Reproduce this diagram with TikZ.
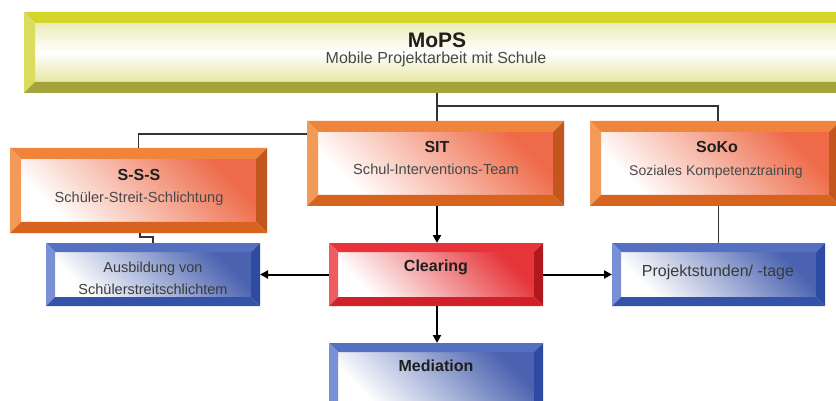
\documentclass[tikz,border=0pt]{standalone}
\usepackage{fontspec}
\setmainfont{Liberation Sans}
\usetikzlibrary{arrows.meta}

% colour families: top / left / right / bottom bevel and face tint
\definecolor{yetop}{HTML}{D6D52C}
\definecolor{yeleft}{HTML}{DCDC5E}
\definecolor{yeright}{HTML}{B4B43A}
\definecolor{yebot}{HTML}{A4A43A}
\definecolor{yein}{HTML}{E4E49C}

\definecolor{ortop}{HTML}{F0843A}
\definecolor{orleft}{HTML}{F49A58}
\definecolor{orright}{HTML}{C2561C}
\definecolor{orbot}{HTML}{D8631E}
\definecolor{orin}{HTML}{EE6A48}

\definecolor{rdtop}{HTML}{E8333A}
\definecolor{rdleft}{HTML}{EE5C60}
\definecolor{rdright}{HTML}{B01A1E}
\definecolor{rdbot}{HTML}{D0202A}
\definecolor{rdin}{HTML}{E6363A}

\definecolor{bltop}{HTML}{5570C0}
\definecolor{blleft}{HTML}{7A90D6}
\definecolor{blright}{HTML}{2E4AA2}
\definecolor{blbot}{HTML}{3352A8}
\definecolor{blin}{HTML}{4A62B0}

\definecolor{linkgray}{HTML}{333333}
\definecolor{titlecol}{HTML}{1E1E1E}
\definecolor{subcol}{HTML}{484848}

\tikzset{
  boxshape/.style={rectangle, inner sep=0pt, outer sep=0pt, anchor=north west},
  yeshade/.style={top color=yein!70!white, bottom color=yein!90!white, middle color=white},
  orshade/.style={top color=orin, bottom color=white, shading angle=-45},
  rdshade/.style={top color=rdin, bottom color=white, shading angle=-45},
  blshade/.style={top color=blin, bottom color=white, shading angle=-45},
  link/.style={draw=linkgray, line width=1.3pt},
  flow/.style={draw=black, line width=2pt, -{Triangle[length=8pt,width=8pt]}},
  bigttl/.style={font=\bfseries\fontsize{21}{25}\selectfont, text=titlecol, inner sep=0pt, anchor=base},
  ttl/.style={font=\bfseries\fontsize{16}{19}\selectfont, text=titlecol, inner sep=0pt, anchor=base},
  sub/.style={font=\fontsize{14.6}{17}\selectfont, text=subcol, inner sep=0pt, anchor=base},
  lbl/.style={font=\fontsize{14.5}{17}\selectfont, text=subcol!80!black, inner sep=0pt, anchor=base},
}

% #1 name, #2 x, #3 y (top-left), #4 width, #5 height, #6 bevel, #7 colour family
\newcommand\bevelbox[7]{%
  \node[boxshape, minimum width=#4pt, minimum height=#5pt] (#1) at (#2,#3) {};
  \shade[#7shade] ([xshift=#6pt,yshift=#6pt]#1.south west) rectangle ([xshift=-#6pt,yshift=-#6pt]#1.north east);
  \fill[#7top] (#1.north west) -- (#1.north east) -- ([xshift=-#6pt,yshift=-#6pt]#1.north east) -- ([xshift=#6pt,yshift=-#6pt]#1.north west) -- cycle;
  \fill[#7left] (#1.north west) -- ([xshift=#6pt,yshift=-#6pt]#1.north west) -- ([xshift=#6pt,yshift=#6pt]#1.south west) -- (#1.south west) -- cycle;
  \fill[#7right] (#1.north east) -- (#1.south east) -- ([xshift=-#6pt,yshift=#6pt]#1.south east) -- ([xshift=-#6pt,yshift=-#6pt]#1.north east) -- cycle;
  \fill[#7bot] (#1.south west) -- (#1.south east) -- ([xshift=-#6pt,yshift=#6pt]#1.south east) -- ([xshift=#6pt,yshift=#6pt]#1.south west) -- cycle;
}

\begin{document}
\begin{tikzpicture}[x=1pt,y=-1pt]
\useasboundingbox (0,0) rectangle (836,401);
\clip (0,0) rectangle (836,401);
\fill[white] (0,0) rectangle (836,401);

% boxes
\bevelbox{mops}{24}{12}{830}{81}{11}{ye}
\bevelbox{sit}{307}{121}{257}{85}{11}{or}
\bevelbox{soko}{590}{121}{250}{85}{11}{or}
\bevelbox{sss}{10}{148}{257}{85}{11}{or}
\bevelbox{ausb}{46}{243}{214}{63}{9}{bl}
\bevelbox{clear}{329}{243}{214}{63}{9}{rd}
\bevelbox{proj}{612}{243}{213}{63}{9}{bl}
\bevelbox{med}{329}{343}{214}{70}{9}{bl}

% tree connectors
\coordinate (jr) at ([xshift=1.5pt]sit.north |- 0,106);
\draw[link] ([xshift=1.5pt]sit.north) -- ([xshift=1.5pt]sit.north |- mops.south);
\draw[link] (jr) -| ([xshift=3pt]soko.north);
\draw[link] ([yshift=-13pt]sit.north west) -| (sss.north);
\draw[link] ([xshift=1.5pt]sss.south) -- ++(0,4) -| (ausb.north);
\draw[link] (proj.north) -- (proj.north |- soko.south);

% flow arrows
\draw[flow] ([xshift=1.5pt]sit.south) -- ([xshift=1pt]clear.north);
\draw[flow] ([xshift=1pt]clear.south) -- ([xshift=1pt]med.north);
\draw[flow] (clear.west) -- (ausb.east);
\draw[flow] (clear.east) -- (proj.west);

% texts
\node[bigttl] (mopsT) at (437,48) {MoPS};
\node[sub, font=\fontsize{16}{19}\selectfont] (mopsS) at (436,64) {Mobile Projektarbeit mit Schule};
\node[ttl] (sitT) at (437,153) {SIT};
\node[sub] (sitS) at (436,174.5) {Schul-Interventions-Team};
\node[ttl] (sokoT) at (717,153) {SoKo};
\node[sub, font=\fontsize{14}{17}\selectfont] (sokoS) at (716,175.5) {Soziales Kompetenztraining};
\node[ttl] (sssT) at (139,181) {S-S-S};
\node[sub] (sssS) at (139,203) {Schüler-Streit-Schlichtung};
\node[lbl] (ausbA) at (153,272) {Ausbildung von};
\node[lbl] (ausbB) at (153,294) {Schülerstreitschlichtem};
\node[ttl] (clearT) at (436,271.5) {Clearing};
\node[lbl, font=\fontsize{16}{19}\selectfont] (projT) at (718,276) {Projektstunden/ -tage};
\node[ttl] (medT) at (436,371) {Mediation};
\end{tikzpicture}
\end{document}
